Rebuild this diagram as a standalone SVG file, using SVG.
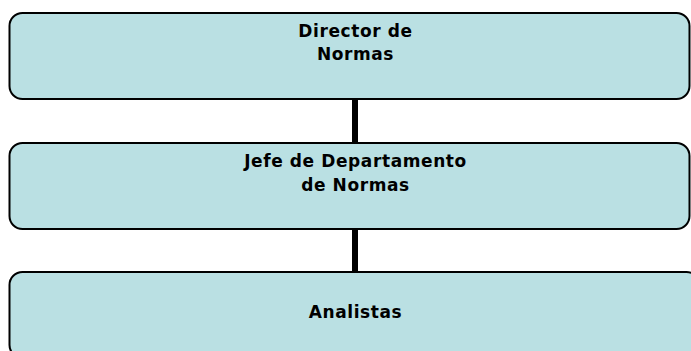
<svg xmlns="http://www.w3.org/2000/svg" width="691" height="351" viewBox="0 0 691 351">
<style>
.box{fill:#BAE0E3;stroke:#000;stroke-width:2}
.lbl{font-family:"DejaVu Sans","Liberation Sans",sans-serif;font-weight:bold;font-size:17px;letter-spacing:0.6px;fill:#000;text-anchor:middle}
.conn{stroke:#000;stroke-width:6;fill:none}
</style>
<rect width="691" height="351" fill="#fff"/>
<g id="connectors">
<line class="conn" x1="355" y1="99" x2="355" y2="143"/>
<line class="conn" x1="355" y1="229" x2="355" y2="272"/>
</g>
<g id="director">
<rect class="box" x="9.5" y="13" width="680" height="86" rx="13"/>
<text class="lbl" x="355.5" y="36.5">Director de</text>
<text class="lbl" x="355.5" y="60">Normas</text>
</g>
<g id="jefe">
<rect class="box" x="9.5" y="143" width="680" height="86" rx="13"/>
<text class="lbl" x="355.5" y="167">Jefe de Departamento</text>
<text class="lbl" x="355.5" y="190.5">de Normas</text>
</g>
<g id="analistas">
<rect class="box" x="9.5" y="272" width="690" height="86" rx="13"/>
<text class="lbl" x="355.5" y="318">Analistas</text>
</g>
</svg>
